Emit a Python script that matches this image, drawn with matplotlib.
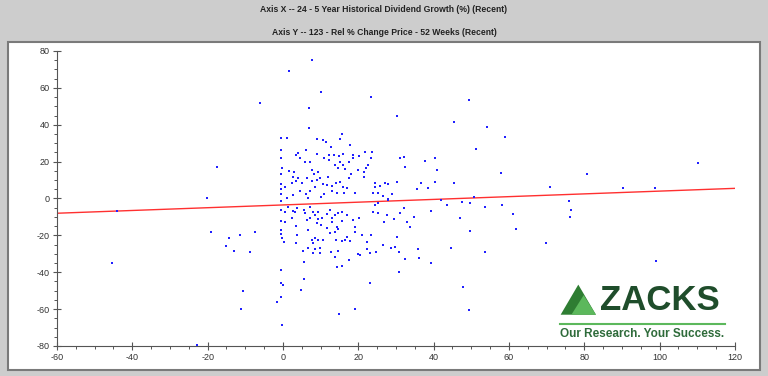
import matplotlib.pyplot as plt
from matplotlib.patches import Rectangle, Polygon
from matplotlib.lines import Line2D
from matplotlib.ticker import MultipleLocator

plt.rcParams['font.family'] = ['Liberation Sans', 'DejaVu Sans']
plt.rcParams['axes.unicode_minus'] = False

title_x = 'Axis X -- 24 - 5 Year Historical Dividend Growth (%) (Recent)'
title_y = 'Axis Y -- 123 - Rel % Change Price - 52 Weeks (Recent)'

# scatter points (x = dividend growth %, y = rel % price change)
div_growth = [
    -17.4, -20.3, -19.0, -14.4, -11.4, -7.4, -15.1, -13.0, -8.8, -45.3, -10.7, -11.2, -22.7, -44.0,
    -6.0, -1.7, -0.3, -0.5, -0.5, -0.5, 0.1,
    7.6, 1.7, 10.1, 23.4, 6.8, 30.4, 6.8, 15.6, 15.2, -0.5, 1.1, 9.0, 10.6, 11.3, 12.7, 17.9,
    -0.5, 6.2, 4.0, 3.5, -0.5, 4.5, 9.1, 10.8, 12.1, 13.6, 12.3, 15.0, 16.0, 15.2, 17.4, 18.7,
    18.7, 20.3, 21.9, 23.6, 23.3, 5.9, 7.2, 31.1, 32.0, 32.4, -0.2, 1.7, 3.0, 7.8, 8.2, 9.4,
    13.8, 14.7, 15.9, 16.5, 18.0, 20.0, 21.5, 22.1, 22.7, 21.6, -0.5, 2.7, 4.1, 3.5, 2.3, -0.5,
    5.0, 6.3, 7.8, 9.0, 9.8, 10.5, 11.6, 12.0, 13.0, 14.1, 15.2, 15.9, 16.9, 17.4, 19.1, 24.5,
    24.5, 25.8, 27.1, 28.0, 30.2, 24.0, 25.3, 26.5, 28.9, 28.0, 1.0, 2.7, 4.5, 6.0, 7.2, 8.5,
    10.1, 10.9, 13.0, 14.3, 16.2, -0.5, -0.5, 0.5, 6.6,
    -0.5, -0.5, 0.5, 1.4, 2.7, 3.2, 3.8, 2.3, 5.7, 5.9, 7.2, 8.1, 8.5, 9.4, 7.2, 6.3, 9.4,
    10.3, 9.0, 10.1, 11.6, 12.5, 13.0, 13.8, 14.7, 15.6, 16.9, 11.6, 13.0, 14.3, 15.6, 13.8,
    14.7, 12.5, -0.5, 0.5, 3.5, 3.8, -0.5, -0.5, -0.3, 0.3, 3.5, 6.6, 7.6, 8.1, 8.5, 9.4, 10.7,
    5.4, 6.7, 8.1, 8.5, 9.8, 9.8, 12.8, 13.8, 14.7, 14.1, 15.6, 16.5, 17.1, 17.8, 18.7, 20.3,
    19.0, 19.1, 20.9, 22.3, 23.3, 17.6, 14.3, 15.7, 5.7, 5.7, 4.8, 15.0, 19.1, 19.9, 20.5,
    22.4, 23.1, 24.7, 23.1, 24.0, 25.3, 26.7, 27.6, 24.5, 25.3, 28.0, 26.5, 28.7, 29.8, 30.7,
    32.5, 30.7, 31.1, 32.0, 32.9, 33.6, 29.5, 30.2,
    49.3, 45.3, 54.2, 59.0, 51.3, 37.8, 40.4, 41.0, 36.6, 35.6, 38.5, 40.4, 45.3, 58.0, 80.7,
    71.0, 50.6, 42.0, 43.5, 47.5, 49.7, 53.7, 58.2, 75.9, 76.4, 76.3, 34.9, 39.4, 47.1, 61.0,
    61.8, 49.7, 69.9, 35.8, 44.7, 53.7, 36.2, 39.4, 47.8, 49.5,
    110.1, 98.7, 90.4, 98.9,
]
rel_change = [
    17.2, 0.1, -18.0, -21.6, -20.0, -18.0, -25.9, -28.3, -28.8, -34.8, -50.0, -59.9, -79.4, -7.0,
    52.0, -56.3, -68.4, -53.2, -38.8, -46.0, -46.9,
    75.1, 69.3, 57.9, 55.2, 49.2, 44.9, 38.4, 34.8, 32.1, 32.8, 32.8, 32.3, 31.9, 30.5, 27.9, 28.8,
    26.3, 26.1, 24.8, 23.4, 22.1, 22.1, 24.3, 21.8, 23.6, 23.8, 21.0, 23.2, 24.1, 20.0, 19.6, 23.6,
    21.8, 23.0, 25.0, 25.4, 21.8, 19.6, 19.6, 22.1, 22.7, 16.9, 16.4, 14.9, 14.5, 15.5, 13.3, 14.5,
    18.2, 16.4, 18.2, 15.8, 13.3, 15.5, 14.5, 16.7, 18.2, 11.8, 13.1, 11.8, 10.9, 9.5, 8.6, 7.7,
    8.2, 10.9, 9.7, 10.0, 10.9, 7.7, 7.3, 11.8, 6.8, 8.6, 9.1, 6.4, 5.5, 11.3, 2.8, 8.2,
    6.4, 6.8, 8.6, 7.7, 8.8, 2.8, 2.8, 1.4, 2.4, -0.4, 0.1, 1.9, 4.2, 2.4, 4.1, 6.4,
    1.0, 2.4, 4.2, 2.8, 3.1, 5.0, 2.4, 6.4, 0.1,
    -1.2, -6.2, -7.1, -4.4, -6.6, -7.5, -5.3, -10.8, -6.2, -8.0, -4.4, -7.1, -8.9, -7.1, -10.4, -11.7, -11.3,
    -10.4, -13.5, -14.4, -8.4, -6.2, -10.8, -8.9, -8.0, -7.1, -8.9, -16.2, -12.6, -15.3, -12.2, -18.0,
    -16.7, -18.9, -12.2, -12.6, -14.9, -19.8, -17.1, -19.4, -21.6, -23.4, -24.0, -17.1, -22.5, -24.0, -21.6, -22.5, -22.5,
    -28.5, -27.0, -29.7, -27.5, -27.0, -29.7, -28.8, -31.6, -28.5, -22.5, -23.0, -22.5, -20.7, -22.9, -11.7, -10.8,
    -15.3, -18.0, -19.8, -23.4, -19.8, -33.3, -37.3, -36.4, -34.6, -43.6, -49.6, -62.8, -59.9, -30.1, -30.6,
    -27.6, -29.7, -28.8, -46.0, -7.1, -8.0, -12.6, -8.9, -3.5, -2.6, -0.8, -25.2, -27.0, -26.1, -28.8,
    -33.0, -39.7, -8.0, -5.3, -12.6, -15.3, -11.3, -20.7,
    53.4, 41.6, 38.6, 33.5, 26.8, 20.3, 21.8, 15.5, 8.6, 5.0, 5.9, 8.9, 8.6, 13.7, 13.3,
    6.4, 1.0, -0.8, -3.5, -2.1, -2.3, -4.8, -3.5, -1.2, -6.2, -9.9, -9.9, -6.8, -10.7, -8.4,
    -16.4, -17.5, -24.3, -27.6, -27.0, -28.8, -32.4, -35.2, -47.8, -60.5,
    19.2, 5.7, 5.7, -33.9,
]

# regression line end points
trend_x = [-60, 120]
trend_y = [-8.0, 5.5]

fig = plt.figure(figsize=(7.68, 3.76), dpi=100)
fig.patch.set_facecolor('#cdcdcd')

# white chart panel with border, kept behind the axes
fig.patches.append(Rectangle((0.011, 0.017), 0.979, 0.871, transform=fig.transFigure,
                             facecolor='white', edgecolor='#7a7a7a', lw=1.5, zorder=-5))

fig.text(0.5, 0.976, title_x, ha='center', va='center', fontsize=6.2,
         fontweight='bold', color='#222222')
fig.text(0.5, 0.913, title_y, ha='center', va='center', fontsize=6.2,
         fontweight='bold', color='#222222')

ax = fig.add_axes([0.0742, 0.0798, 0.8828, 0.7846])
ax.set_zorder(2)
ax.set_facecolor('none')
ax.scatter(div_growth, rel_change, s=3.5, marker='s', color='#2020ff', linewidths=0, zorder=3)
ax.plot(trend_x, trend_y, color='#ff3030', lw=1, zorder=2)

ax.set_xlim(-60, 120)
ax.set_ylim(-80, 80)
ax.xaxis.set_major_locator(MultipleLocator(20))
ax.xaxis.set_minor_locator(MultipleLocator(5))
ax.yaxis.set_major_locator(MultipleLocator(20))
ax.yaxis.set_minor_locator(MultipleLocator(5))
for s in ['top', 'right']:
    ax.spines[s].set_visible(False)
for s in ['left', 'bottom']:
    ax.spines[s].set_color('#555555')
    ax.spines[s].set_linewidth(0.8)
ax.tick_params(which='major', direction='inout', length=6, width=0.8, color='#555555',
               labelsize=6.5, labelcolor='#333333', pad=2)
ax.tick_params(which='minor', direction='out', length=2, width=0.7, color='#555555')

# Zacks logo, bottom right
fig.patches.append(Polygon([[0.730, 0.163], [0.753, 0.243], [0.776, 0.163]], closed=True,
                           transform=fig.transFigure, facecolor='#2e7d32', edgecolor='none'))
fig.patches.append(Polygon([[0.744, 0.163], [0.76, 0.215], [0.776, 0.163]], closed=True,
                           transform=fig.transFigure, facecolor='#5cb85c', edgecolor='none'))
fig.text(0.781, 0.2, 'ZACKS', ha='left', va='center', fontsize=25, fontweight='bold',
         color='#1f4d2b')
fig.lines.append(Line2D([0.729, 0.944], [0.138, 0.138], transform=fig.transFigure,
                        color='#5cb85c', lw=1.5))
fig.text(0.729, 0.113, 'Our Research. Your Success.', ha='left', va='center', fontsize=8.5,
         fontweight='bold', color='#2e6b3a')

fig.savefig('out.png', dpi=100)
